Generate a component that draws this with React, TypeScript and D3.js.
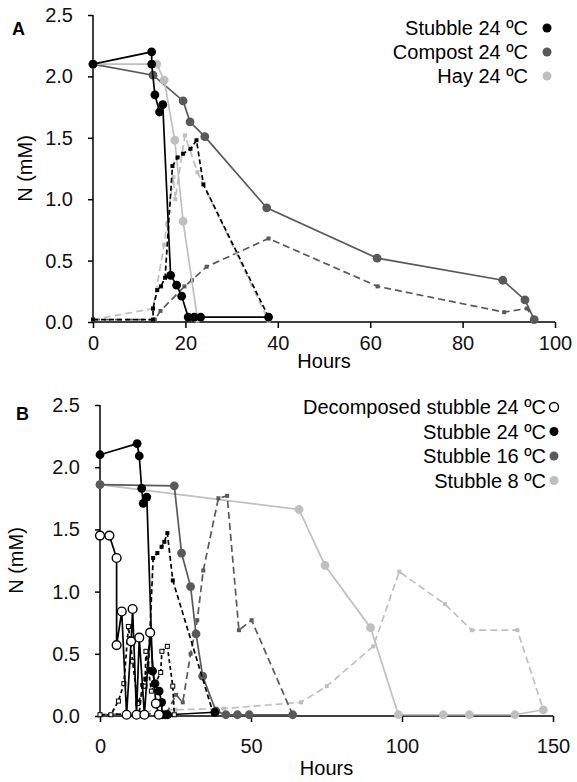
import React, { useEffect, useRef } from "react";
import * as d3 from "d3";

// ---- Panel A data (hours, N mM) ----
const stubbleA_h = [0, 12.7, 12.7, 13.4, 14.4, 15.1, 16.8, 18.1, 19.2, 20.6, 21.9, 23.3, 38];
const stubbleA_n = [2.10, 2.20, 2.10, 1.85, 1.71, 1.77, 0.38, 0.30, 0.21, 0.04, 0.04, 0.04, 0.04];
const stubbleProdA_h = [0, 13, 13, 13.9, 14.7, 15.6, 17.2, 18.3, 19.5, 21.1, 22.4, 23.9, 38];
const stubbleProdA_n = [0.02, 0.02, 0.11, 0.26, 0.29, 0.36, 1.27, 1.34, 1.37, 1.41, 1.48, 1.12, 0.04];
const compostA_h = [0, 13, 19.5, 21.0, 24.2, 37.6, 61.5, 88.7, 93.5, 95.5];
const compostA_n = [2.10, 2.01, 1.80, 1.63, 1.51, 0.93, 0.52, 0.34, 0.18, 0.02];
const compostProdA_h = [0, 13.4, 14.6, 19.8, 21.4, 24.6, 38, 61.6, 89, 93.9, 95.5];
const compostProdA_n = [0.02, 0.02, 0.09, 0.29, 0.34, 0.45, 0.68, 0.29, 0.08, 0.11, 0.02];
const hayA_h = [0, 13.8, 15.4, 17.7, 19.5, 22.6];
const hayA_n = [2.10, 2.10, 1.97, 1.48, 0.82, 0.03];
const hayProdA_h = [0, 13, 15.4, 16.0, 17.4, 17.8, 19.9, 22.6, 38];
const hayProdA_n = [0.02, 0.11, 0.63, 0.80, 1.18, 1.00, 1.52, 1.22, 0.01];

// ---- Panel B data ----
const decompB_h = [0, 3.1, 5.5, 5.5, 7.2, 8.8, 10.3, 10.8, 12.1, 13.0, 14.7, 16.6, 18.5, 19.5];
const decompB_n = [1.45, 1.45, 1.27, 0.57, 0.84, 0.01, 0.60, 0.86, 0.01, 0.63, 0.01, 0.67, 0.10, 0.01];
const decompProdB_h = [0, 3.6, 6.1, 7.9, 9.4, 10.8, 12.5, 14.9, 15.2, 17.0, 20.1, 20.5, 22.3, 24.1, 24.6];
const decompProdB_n = [0.01, 0.01, 0.12, 0.26, 0.72, 0.44, 0.10, 0.24, 0.52, 0.20, 0.35, 0.52, 0.56, 0.24, 0.01];
const stubble24B_h = [0, 12.3, 13, 13.8, 14.3, 15.5, 17.4, 18.2, 19.6, 20.4, 20.6, 21.6, 22.4, 38];
const stubble24B_n = [2.10, 2.19, 2.09, 1.83, 1.71, 1.76, 0.36, 0.26, 0.20, 0.11, 0.01, 0.01, 0.01, 0.03];
const stubble24ProdB_h = [0, 13, 14, 15, 16, 17.6, 19, 20.4, 21.3, 22.3, 24.1, 37.5];
const stubble24ProdB_n = [0.01, 0.02, 0.25, 0.30, 0.38, 1.27, 1.31, 1.36, 1.40, 1.47, 1.09, 0.02];
const stubble16B_h = [0, 24.6, 27.0, 30.0, 31.8, 34.0, 38.4, 41.7, 45.5, 49.4, 63.8];
const stubble16B_n = [1.86, 1.85, 1.31, 1.04, 0.66, 0.32, 0.04, 0.01, 0.01, 0.01, 0.01];
const stubble16ProdB_h = [0, 22, 25.2, 27.4, 30.0, 32.2, 34.2, 39.2, 42.1, 46.0, 50.2, 63.8];
const stubble16ProdB_n = [0.01, 0.02, 0.17, 0.11, 0.50, 0.77, 1.17, 1.75, 1.77, 0.69, 0.77, 0.01];
const stubble8B_h = [0, 65.9, 74.5, 89.6, 98.8, 113.7, 122.3, 137.4, 146.8];
const stubble8B_n = [1.86, 1.66, 1.21, 0.71, 0.01, 0.01, 0.01, 0.01, 0.05];
const stubble8ProdB_h = [0, 25, 41, 66.6, 75.1, 90.5, 99.1, 114.2, 123.1, 138.2, 146.8];
const stubble8ProdB_n = [0.01, 0.05, 0.06, 0.11, 0.24, 0.56, 1.16, 0.90, 0.69, 0.69, 0.05];

const legendA = ["Stubble 24 \u00baC", "Compost 24 \u00baC", "Hay 24 \u00baC"];
const legendB = ["Decomposed stubble 24 \u00baC", "Stubble 24 \u00baC", "Stubble 16 \u00baC", "Stubble 8 \u00baC"];
const yTicks = [0, 0.5, 1, 1.5, 2, 2.5];
const xTicksA = [0, 20, 40, 60, 80, 100];
const xTicksB = [0, 50, 100, 150];

const BLACK = "#000000";
const DARK = "#595959";
const LIGHT = "#bfbfbf";
const FONT = "'Liberation Sans', Arial, sans-serif";

const zip = (h, n) => h.map((v, i) => [v, n[i]]);

function drawPanel(svg, cfg) {
  const x = d3.scaleLinear().domain(cfg.xDomain).range([cfg.left, cfg.right]);
  const y = d3.scaleLinear().domain([0, 2.5]).range([cfg.bottom, cfg.top]);
  const g = svg.append("g");

  // axes
  const ya = g.append("g").attr("transform", `translate(${cfg.left},0)`)
    .call(d3.axisLeft(y).tickValues(yTicks).tickFormat(d3.format(".1f")).tickSize(5).tickPadding(15));
  const xa = g.append("g").attr("transform", `translate(0,${cfg.bottom})`)
    .call(d3.axisBottom(x).tickValues(cfg.xTicks).tickFormat(d3.format("d")).tickSize(6).tickPadding(cfg.xPad));
  [ya, xa].forEach(a => {
    a.selectAll("path").attr("stroke", BLACK).attr("stroke-width", 1.5);
    a.selectAll("line").attr("stroke", BLACK).attr("stroke-width", 1.5);
    a.selectAll("text").attr("font-family", FONT).attr("font-size", 20).attr("fill", "#111");
  });
  ya.select(".domain").attr("d", `M0,${cfg.bottom}V${cfg.top}`);
  xa.select(".domain").attr("d", `M${cfg.left},0H${cfg.right}`);

  const line = d3.line().x(d => x(d[0])).y(d => y(d[1]));

  cfg.series.forEach(s => {
    const pts = zip(s.h, s.n);
    g.append("path").attr("d", line(pts)).attr("fill", "none")
      .attr("stroke", s.color).attr("stroke-width", 1.7)
      .attr("stroke-dasharray", s.dash ? s.dash : null);
    if (s.marker === "circle" || s.marker === "open") {
      g.selectAll(null).data(pts).join("circle")
        .attr("cx", d => x(d[0])).attr("cy", d => y(d[1])).attr("r", 4.4)
        .attr("fill", s.marker === "open" ? "#fff" : s.color)
        .attr("stroke", s.color).attr("stroke-width", s.marker === "open" ? 1.4 : 0);
    } else {
      const sz = 4;
      g.selectAll(null).data(pts).join("rect")
        .attr("x", d => x(d[0]) - sz / 2).attr("y", d => y(d[1]) - sz / 2)
        .attr("width", sz).attr("height", sz)
        .attr("fill", s.marker === "openSq" ? "#fff" : s.color)
        .attr("stroke", s.marker === "openSq" ? s.color : "none").attr("stroke-width", 1);
    }
  });

  // labels
  g.append("text").attr("x", cfg.letterX).attr("y", cfg.letterY).attr("font-family", FONT)
    .attr("font-size", 18).attr("font-weight", "bold").text(cfg.letter);
  g.append("text").attr("transform", `translate(${cfg.yLabelX},${(cfg.top + cfg.bottom) / 2}) rotate(-90)`)
    .attr("text-anchor", "middle").attr("dominant-baseline", "middle")
    .attr("font-family", FONT).attr("font-size", 20).text("N (mM)");
  g.append("text").attr("x", (cfg.left + cfg.right) / 2).attr("y", cfg.hoursY)
    .attr("text-anchor", "middle").attr("font-family", FONT).attr("font-size", 20).text("Hours");

  // legend
  cfg.legend.forEach((lab, i) => {
    const yy = cfg.legY + i * cfg.legStep;
    g.append("text").attr("x", cfg.legTextX).attr("y", yy).attr("text-anchor", "end")
      .attr("dominant-baseline", "central").attr("font-family", FONT).attr("font-size", 20).text(lab);
    const c = cfg.legColors[i];
    g.append("circle").attr("cx", cfg.legMarkX).attr("cy", yy).attr("r", 4.5)
      .attr("fill", c === "open" ? "#fff" : c).attr("stroke", c === "open" ? BLACK : "none").attr("stroke-width", 1.4);
  });
}

export default function App() {
  const ref = useRef(null);
  useEffect(() => {
    document.body.style.margin = "0";
    const svg = d3.select(ref.current);
    svg.selectAll("*").remove();
    svg.append("rect").attr("width", 577).attr("height", 782).attr("fill", "#fff");

    drawPanel(svg, {
      xDomain: [0, 100], xTicks: xTicksA, left: 93, right: 555, top: 15, bottom: 322, xPad: 8,
      letter: "A", letterX: 12, letterY: 35, yLabelX: 27, hoursY: 368,
      legend: legendA, legColors: [BLACK, DARK, LIGHT], legTextX: 528, legMarkX: 547, legY: 28, legStep: 24,
      series: [
        { h: compostProdA_h, n: compostProdA_n, color: DARK, dash: "7,4", marker: "sq" },
        { h: hayProdA_h, n: hayProdA_n, color: LIGHT, dash: "7,4", marker: "sq" },
        { h: compostA_h, n: compostA_n, color: DARK, marker: "circle" },
        { h: hayA_h, n: hayA_n, color: LIGHT, marker: "circle" },
        { h: stubbleProdA_h, n: stubbleProdA_n, color: BLACK, dash: "5,3", marker: "sq" },
        { h: stubbleA_h, n: stubbleA_n, color: BLACK, marker: "circle" },
      ],
    });

    drawPanel(svg, {
      xDomain: [0, 150], xTicks: xTicksB, left: 100, right: 553, top: 405, bottom: 716, xPad: 17,
      letter: "B", letterX: 16, letterY: 420, yLabelX: 18, hoursY: 775,
      legend: legendB, legColors: ["open", BLACK, DARK, LIGHT], legTextX: 546, legMarkX: 554, legY: 407, legStep: 24.5,
      series: [
        { h: stubble8ProdB_h, n: stubble8ProdB_n, color: LIGHT, dash: "7,4", marker: "sq" },
        { h: stubble8B_h, n: stubble8B_n, color: LIGHT, marker: "circle" },
        { h: stubble16ProdB_h, n: stubble16ProdB_n, color: DARK, dash: "7,4", marker: "sq" },
        { h: stubble16B_h, n: stubble16B_n, color: DARK, marker: "circle" },
        { h: stubble24ProdB_h, n: stubble24ProdB_n, color: BLACK, dash: "5,3", marker: "sq" },
        { h: stubble24B_h, n: stubble24B_n, color: BLACK, marker: "circle" },
        { h: decompProdB_h, n: decompProdB_n, color: BLACK, dash: "4,3", marker: "openSq" },
        { h: decompB_h, n: decompB_n, color: BLACK, marker: "open" },
      ],
    });
  }, []);
  return <svg ref={ref} width={577} height={782} style={{ display: "block" }} />;
}
